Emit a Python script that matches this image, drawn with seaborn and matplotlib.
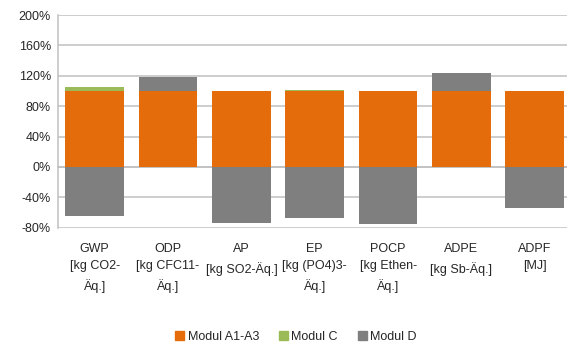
import matplotlib.pyplot as plt
import pandas as pd
import seaborn as sns
from matplotlib.patches import Patch

categories = ["GWP\n[kg CO2-\nÄq.]", "ODP\n[kg CFC11-\nÄq.]", "AP\n[kg SO2-Äq.]",
              "EP\n[kg (PO4)3-\nÄq.]", "POCP\n[kg Ethen-\nÄq.]", "ADPE\n[kg Sb-Äq.]",
              "ADPF\n[MJ]"]
modul_a1_a3 = [100, 100, 100, 100, 100, 100, 100]
modul_c = [5.5, 0, 0.3, 1, 0.3, 0, 0]
modul_d = [-65, 18.7, -74, -67, -75.5, 24, -54]
y_ticks = [-80, -40, 0, 40, 80, 120, 160, 200]
legend_labels = ["Modul A1-A3", "Modul C", "Modul D"]

colors = ["#E46C0A", "#9BBB59", "#7F7F7F"]

sns.set_style("white")
plt.rcParams['font.family'] = ['Liberation Sans', 'DejaVu Sans']

df = pd.DataFrame({"cat": categories, "a": modul_a1_a3, "c": modul_c, "d": modul_d})
# stacked by overlaying cumulative totals
df["d_pos"] = df["a"] + df["c"] + df["d"].clip(lower=0)
df["ac"] = df["a"] + df["c"]
df["d_neg"] = df["d"].clip(upper=0)

fig = plt.figure(figsize=(5.67, 3.44), dpi=100)
ax = fig.add_axes([58 / 567, 1 - 227.7 / 344, 513.5 / 567, 212.7 / 344])

for col, c in [("d_pos", colors[2]), ("ac", colors[1]), ("a", colors[0]), ("d_neg", colors[2])]:
    sns.barplot(data=df, x="cat", y=col, color=c, saturation=1, width=0.8,
                linewidth=0, zorder=3, ax=ax)

ax.set_xlim(-0.5, len(categories) - 0.5)
ax.set_ylim(-80, 200)
ax.set_yticks(y_ticks)
ax.set_yticklabels([f"{v}%" for v in y_ticks], fontsize=9)
ax.yaxis.grid(True, color="#c0c0c0", linewidth=1.1, zorder=0)
ax.set_axisbelow(True)
ax.set_xlabel("")
ax.set_ylabel("")

for s in ["top", "right"]:
    ax.spines[s].set_visible(False)
ax.spines["left"].set_color("#c0c0c0")
ax.spines["left"].set_linewidth(1.1)
ax.spines["bottom"].set_position(("data", 0))
ax.spines["bottom"].set_color("#c0c0c0")
ax.spines["bottom"].set_linewidth(1.1)

ax.set_xticks(range(len(categories)))
ax.set_xticklabels(categories, fontsize=9, linespacing=1.65)
ax.set_xticks([i + 0.5 for i in range(len(categories) - 1)], minor=True)
ax.tick_params(axis="x", which="major", length=0, pad=54.5)
ax.tick_params(axis="x", which="minor", length=4, color="#c0c0c0", width=1, direction="out")
ax.tick_params(axis="y", length=0, pad=5)

handles = [Patch(color=c) for c in colors]
fig.legend(handles, legend_labels, loc="center", bbox_to_anchor=(296 / 567, 1 - 337 / 344),
           ncol=3, frameon=False, fontsize=9, handlelength=0.7, handleheight=0.7,
           handletextpad=0.3, columnspacing=1.6)

plt.savefig("out.png", dpi=100)
